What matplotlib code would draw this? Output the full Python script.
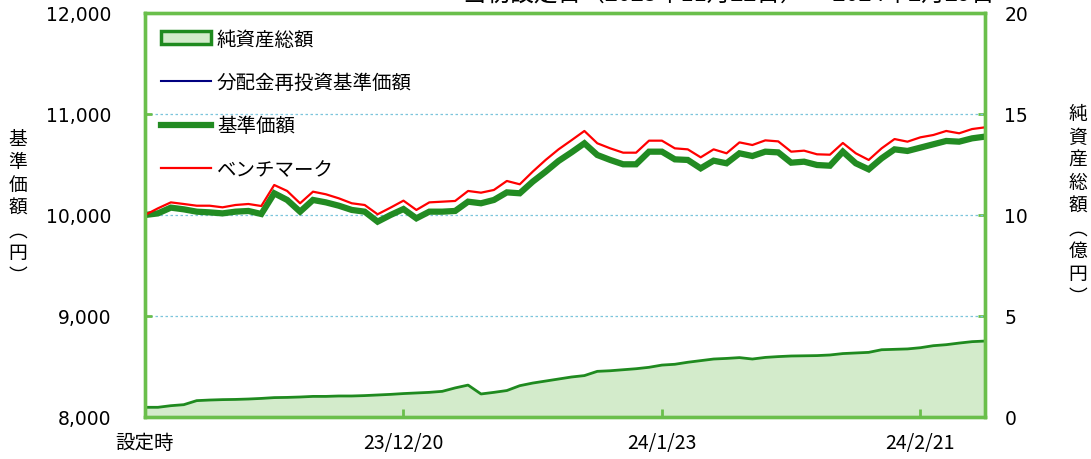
import numpy as np
import matplotlib
matplotlib.use("Agg")
import matplotlib.pyplot as plt
from matplotlib.patches import Patch
from matplotlib.lines import Line2D
from matplotlib.ticker import FuncFormatter

plt.rcParams['font.family'] = ['DejaVu Sans', 'Noto Sans CJK JP']

# ---------------- data ----------------
tick_index = [0, 20, 40, 60]
tick_labels = ["設定時", "23/12/20", "24/1/23", "24/2/21"]

base_price = [10000, 10016, 10073, 10056, 10033, 10026, 10016, 10033, 10040, 10010,
              10215, 10149, 10033, 10149, 10125, 10092, 10050, 10033, 9934, 10000,
              10059, 9967, 10033, 10033, 10040, 10132, 10116, 10149, 10224, 10215,
              10330, 10429, 10535, 10620, 10710, 10594, 10545, 10502, 10502, 10627,
              10627, 10551, 10545, 10462, 10538, 10512, 10611, 10584, 10627, 10620,
              10518, 10528, 10495, 10488, 10627, 10512, 10452, 10561, 10650, 10634,
              10667, 10700, 10733, 10726, 10759, 10776]

reinvested_price = list(base_price)

benchmark = [10000, 10066, 10125, 10109, 10092, 10092, 10076, 10099, 10109, 10089,
             10297, 10238, 10116, 10231, 10205, 10165, 10116, 10099, 10007, 10073,
             10142, 10050, 10125, 10132, 10139, 10238, 10221, 10248, 10337, 10304,
             10429, 10545, 10650, 10740, 10832, 10710, 10660, 10617, 10617, 10736,
             10736, 10660, 10650, 10571, 10650, 10611, 10719, 10693, 10739, 10729,
             10627, 10637, 10601, 10597, 10713, 10611, 10545, 10660, 10752, 10726,
             10769, 10792, 10832, 10809, 10851, 10868]

net_assets = [0.48, 0.48, 0.56, 0.61, 0.81, 0.84, 0.86, 0.87, 0.89, 0.92,
              0.96, 0.97, 0.99, 1.02, 1.02, 1.04, 1.04, 1.06, 1.09, 1.12,
              1.16, 1.19, 1.22, 1.27, 1.44, 1.58, 1.14, 1.22, 1.31, 1.55,
              1.68, 1.78, 1.88, 1.98, 2.05, 2.26, 2.29, 2.34, 2.39, 2.46,
              2.57, 2.61, 2.71, 2.79, 2.87, 2.90, 2.94, 2.87, 2.95, 2.99,
              3.02, 3.03, 3.04, 3.07, 3.14, 3.17, 3.20, 3.33, 3.35, 3.37,
              3.43, 3.53, 3.58, 3.66, 3.73, 3.76]

legend_labels = ["純資産総額", "分配金再投資基準価額", "基準価額", "ベンチマーク"]
title_text = "当初設定日（2023年11月22日）～ 2024年2月29日"

# ---------------- style ----------------
SPINE = "#6abf4b"
DARK_GREEN = "#1f8a1f"
FILL = "#d3ebcb"
RED = "#ff0000"
NAVY = "#000080"
GRID = "#7cc5dc"
CJK = ['Noto Sans CJK JP', 'DejaVu Sans']

x = np.arange(len(base_price))

fig = plt.figure(figsize=(10.91, 4.60), dpi=100)
ax = fig.add_axes([145/1091, 1 - 418/460, (985 - 145)/1091, (418 - 14)/460])
ax2 = ax.twinx()

# area on secondary axis
ax2.fill_between(x, net_assets, 0, color=FILL, lw=0)
ax2.plot(x, net_assets, color=DARK_GREEN, lw=2.0, solid_joinstyle='round')
ax2.set_ylim(0, 20)
ax2.set_yticks([0, 5, 10, 15, 20])

# lines on primary axis
ax.set_zorder(ax2.get_zorder() + 1)
ax.patch.set_visible(False)
ax.plot(x, reinvested_price, color=NAVY, lw=1.5)
ax.plot(x, base_price, color="#228b22", lw=4.5, solid_joinstyle='miter')
ax.plot(x, benchmark, color=RED, lw=1.6)

ax.set_ylim(8000, 12000)
ax.set_yticks([8000, 9000, 10000, 11000, 12000])
ax.yaxis.set_major_formatter(FuncFormatter(lambda v, p: f"{int(v):,}"))
ax.set_xlim(0, len(base_price) - 1)
ax.set_xticks(tick_index)
ax.set_xticklabels(tick_labels, family=CJK)

for yv in [9000, 10000, 11000]:
    ax.axhline(yv, color=GRID, lw=0.9, ls=(0, (2, 2)), zorder=0.5)

for a in (ax, ax2):
    for s in a.spines.values():
        s.set_color(SPINE)
        s.set_linewidth(2.4)

ax.tick_params(axis='y', direction='in', length=5, width=2, color=SPINE,
               labelsize=13.5, pad=24)
ax.tick_params(axis='x', direction='in', length=6, width=2, color=SPINE,
               labelsize=14, pad=11)
ax2.tick_params(axis='y', direction='in', length=5, width=2, color=SPINE,
                labelsize=13.5, pad=14)

# vertical axis labels
def vtext(chars):
    return "\n".join(chars)

fig.text(18/1091, 1 - 208/460, vtext(["基", "準", "価", "額", "︵", "円", "︶"]),
         ha='center', va='center', fontsize=13.5, linespacing=1.12, family=CJK)
fig.text(1078/1091, 1 - 206/460, vtext(["純", "資", "産", "総", "額", "︵", "億", "円", "︶"]),
         ha='center', va='center', fontsize=13.5, linespacing=1.12, family=CJK)

# title (cut at top edge as in reference)
fig.text(995/1091, 1 - 1/460, title_text, ha='right', va='baseline',
         fontsize=17, family=CJK)

# legend
handles = [Patch(facecolor=FILL, edgecolor=DARK_GREEN, linewidth=2.5),
           Line2D([], [], color=NAVY, lw=1.5),
           Line2D([], [], color="#228b22", lw=4.5),
           Line2D([], [], color=RED, lw=1.6)]
leg = ax.legend(handles, legend_labels, loc='upper left',
                bbox_to_anchor=(0.0, 1.0), frameon=False,
                prop={'family': CJK, 'size': 14},
                handlelength=2.6, handleheight=0.65, handletextpad=0.3,
                labelspacing=1.15, borderaxespad=0.3, borderpad=0.5)

fig.savefig("out.png", dpi=100)
